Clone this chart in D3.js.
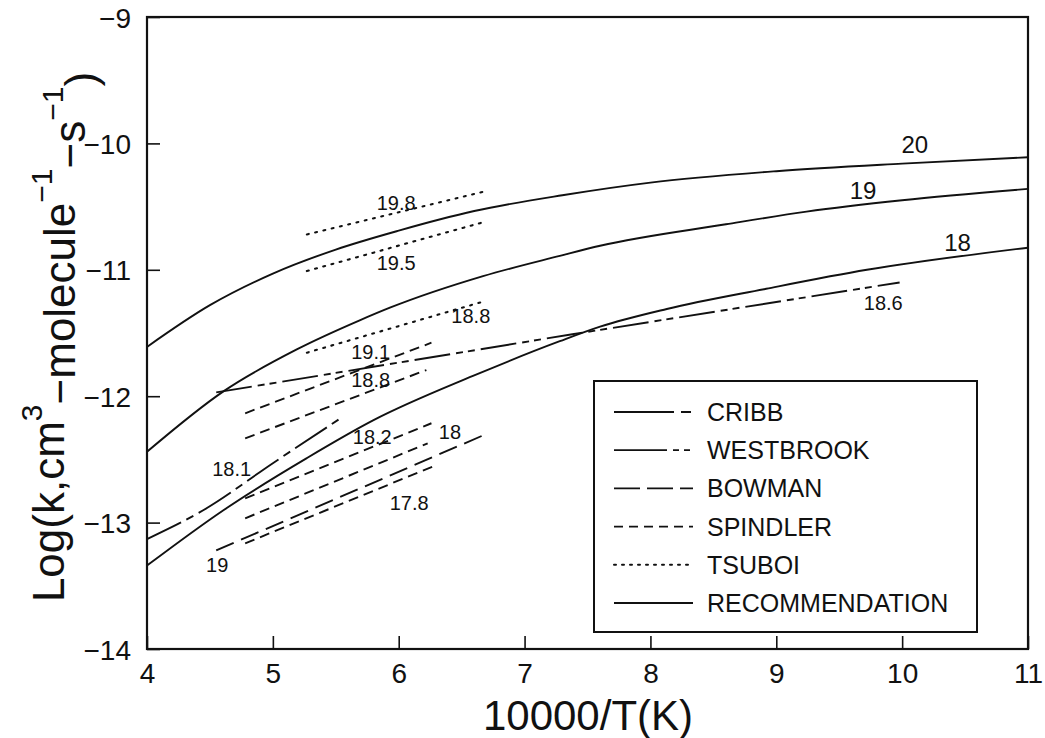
<!DOCTYPE html>
<html>
<head>
<meta charset="utf-8">
<script src="https://cdn.jsdelivr.net/npm/d3@7"></script>
<style>
  html, body { margin: 0; padding: 0; background: #ffffff; }
  svg { display: block; }
  text { font-family: "Liberation Sans", Arial, sans-serif; fill: #111; }
</style>
</head>
<body>
<svg id="chart" width="1045" height="738"></svg>
<script>
// ---------- data ----------
const xTicks = [4, 5, 6, 7, 8, 9, 10, 11];
const yTicks = [-9, -10, -11, -12, -13, -14];

// Recommendation curves (solid)
const rec20 = [[4, -11.61], [4.5, -11.28], [5.0, -11.03], [5.5, -10.84], [6.0, -10.69], [6.6, -10.535], [7.3, -10.41], [8.0, -10.31], [9.0, -10.22], [10.0, -10.16], [11, -10.11]];
const rec19 = [[4, -12.44], [4.61, -11.96], [5.19, -11.63], [5.69, -11.40], [5.93, -11.30], [6.67, -11.05], [7.28, -10.89], [7.6, -10.81], [8.6, -10.64], [9.24, -10.54], [10.0, -10.45], [11, -10.36]];
const rec18 = [[4, -13.34], [4.61, -12.90], [5.27, -12.49], [5.80, -12.19], [6.59, -11.84], [7.28, -11.565], [7.6, -11.45], [8.13, -11.31], [8.92, -11.15], [9.72, -11.00], [11, -10.825]];

// Study lines
const cribb = [[4.0, -13.13], [4.45, -12.90], [5.0, -12.53], [5.56, -12.16]];
const westbrook = [[4.55, -11.97], [7.38, -11.51], [9.98, -11.10]];
const bowman = [[4.55, -13.22], [6.67, -12.31]];
const spindler1 = [[4.78, -12.135], [6.26, -11.577]];
const spindler2 = [[4.78, -12.333], [6.22, -11.793]];
const spindler3 = [[4.78, -12.808], [6.26, -12.214]];
const spindler4 = [[4.78, -12.966], [6.23, -12.373]];
const spindler5 = [[4.78, -13.164], [6.27, -12.557]];
const tsuboi1 = [[5.27, -10.72], [6.685, -10.38]];
const tsuboi2 = [[5.27, -11.01], [6.685, -10.62]];
const tsuboi3 = [[5.27, -11.656], [6.67, -11.252]];

// Curve annotations
const labelText = ["20", "19", "18", "18.6", "19.8", "19.5", "18.8", "19.1", "18.8", "18.2", "18", "17.8", "18.1", "19"];
const labelX    = [10.1, 9.69, 10.44, 9.85, 5.98, 5.98, 6.573, 5.777, 5.777, 5.79, 6.407, 6.083, 4.673, 4.558];
const labelY    = [-10.01, -10.37, -10.78, -11.26, -10.47, -10.944, -11.363, -11.648, -11.872, -12.32, -12.28, -12.84, -12.578, -13.335];
const labelBig  = [true, true, true, false, false, false, false, false, false, false, false, false, false, false];

// Legend
const legendNames = ["CRIBB", "WESTBROOK", "BOWMAN", "SPINDLER", "TSUBOI", "RECOMMENDATION"];

// ---------- layout ----------
const svg = d3.select("#chart");
const L = 147, T = 17, R = 1028, B = 649;
const x = d3.scaleLinear().domain([4, 11]).range([L, R]);
const y = d3.scaleLinear().domain([-14, -9]).range([B, T]);

const styles = {
  cribb:     {dash: "38,6,8,6", w: 1.9},
  westbrook: {dash: "36,6,7,5,7,6", w: 1.9},
  bowman:    {dash: "19,8", w: 1.9},
  spindler:  {dash: "10,6", w: 1.9},
  tsuboi:    {dash: "2,6.5", w: 2.1},
  rec:       {dash: null, w: 1.9}
};
const legendStyles = [
  {dash: "60,7,10,40", w: 1.8},
  {dash: "53,6,6,5,6,40", w: 1.8},
  {dash: "26,7", w: 1.8},
  {dash: "9,6", w: 1.8},
  {dash: "2,6", w: 2.0},
  {dash: null, w: 1.8}
];

const line = d3.line().x(d => x(d[0])).y(d => y(d[1]));
const curve = d3.line().x(d => x(d[0])).y(d => y(d[1])).curve(d3.curveMonotoneX);

function draw(data, st, gen) {
  const p = svg.append("path")
    .attr("d", (gen || line)(data))
    .attr("fill", "none")
    .attr("stroke", "#111")
    .attr("stroke-width", st.w);
  if (st.dash) p.attr("stroke-dasharray", st.dash);
  if (st === styles.tsuboi) p.attr("stroke-linecap", "round");
  return p;
}

// Recommendation curves
[rec20, rec19, rec18].forEach(c => draw(c, styles.rec, curve));
draw(cribb, styles.cribb, curve);
draw(westbrook, styles.westbrook);
draw(bowman, styles.bowman);
[spindler1, spindler2, spindler3, spindler4, spindler5].forEach(s => draw(s, styles.spindler));
[tsuboi1, tsuboi2, tsuboi3].forEach(s => draw(s, styles.tsuboi));

// Frame
svg.append("rect")
  .attr("x", L).attr("y", T)
  .attr("width", R - L).attr("height", B - T)
  .attr("fill", "none").attr("stroke", "#111").attr("stroke-width", 2.2);

// Axes (ticks inward)
const xAxis = d3.axisBottom(x).tickValues(xTicks).tickSizeInner(-13).tickSizeOuter(0).tickFormat(d3.format("d"));
const gx = svg.append("g").attr("transform", `translate(0,${B})`).call(xAxis);
gx.select(".domain").remove();
gx.selectAll(".tick line").attr("stroke", "#111").attr("stroke-width", 1.6);
gx.selectAll(".tick text")
  .attr("y", 34).attr("dy", 0)
  .style("font-size", "28px")
  .style("font-family", "'Liberation Sans', Arial, sans-serif")
  .attr("fill", "#111");

const yAxis = d3.axisLeft(y).tickValues(yTicks).tickSizeInner(-13).tickSizeOuter(0)
  .tickFormat(d => "\u2212" + Math.abs(d));
const gy = svg.append("g").attr("transform", `translate(${L},0)`).call(yAxis);
gy.select(".domain").remove();
gy.selectAll(".tick line").attr("stroke", "#111").attr("stroke-width", 1.6);
gy.selectAll(".tick text")
  .attr("x", -16).attr("dy", "0.36em")
  .style("font-size", "28px")
  .style("font-family", "'Liberation Sans', Arial, sans-serif")
  .attr("fill", "#111");

// Axis titles
svg.append("text")
  .attr("x", 588).attr("y", 730)
  .attr("text-anchor", "middle")
  .style("font-size", "42px")
  .text("10000/T(K)");

const yt = svg.append("text")
  .attr("transform", "translate(64,337) rotate(-90)")
  .attr("text-anchor", "middle")
  .style("font-size", "44px");
yt.append("tspan").text("Log(k,cm");
yt.append("tspan").attr("dy", "-0.75em").style("font-size", "30px").text("3");
yt.append("tspan").attr("dy", "0.75em").text("\u2212molecule");
yt.append("tspan").attr("dy", "-0.75em").style("font-size", "30px").text("\u22121");
yt.append("tspan").attr("dy", "0.75em").text("\u2212s");
yt.append("tspan").attr("dy", "-0.75em").style("font-size", "30px").text("\u22121");
yt.append("tspan").attr("dy", "0.75em").text(")");

// Curve labels
labelText.forEach((t, i) => {
  svg.append("text")
    .attr("x", x(labelX[i])).attr("y", y(labelY[i]))
    .attr("text-anchor", "middle")
    .attr("dy", "0.36em")
    .style("font-size", labelBig[i] ? "24px" : "20px")
    .text(t);
});

// Legend
const lg = svg.append("g");
lg.append("rect")
  .attr("x", 594).attr("y", 381).attr("width", 383).attr("height", 251)
  .attr("fill", "#fff").attr("stroke", "#111").attr("stroke-width", 2);
const legendY = d3.scalePoint().domain(legendNames).range([412, 603]);
legendNames.forEach((n, i) => {
  const yy = legendY(n);
  const p = lg.append("line")
    .attr("x1", 614).attr("x2", 693).attr("y1", yy).attr("y2", yy)
    .attr("stroke", "#111").attr("stroke-width", legendStyles[i].w);
  if (legendStyles[i].dash) p.attr("stroke-dasharray", legendStyles[i].dash);
  if (i === 4) p.attr("stroke-linecap", "round");
  lg.append("text")
    .attr("x", 707).attr("y", yy).attr("dy", "0.36em")
    .style("font-size", "25px")
    .text(n);
});
</script>
</body>
</html>
